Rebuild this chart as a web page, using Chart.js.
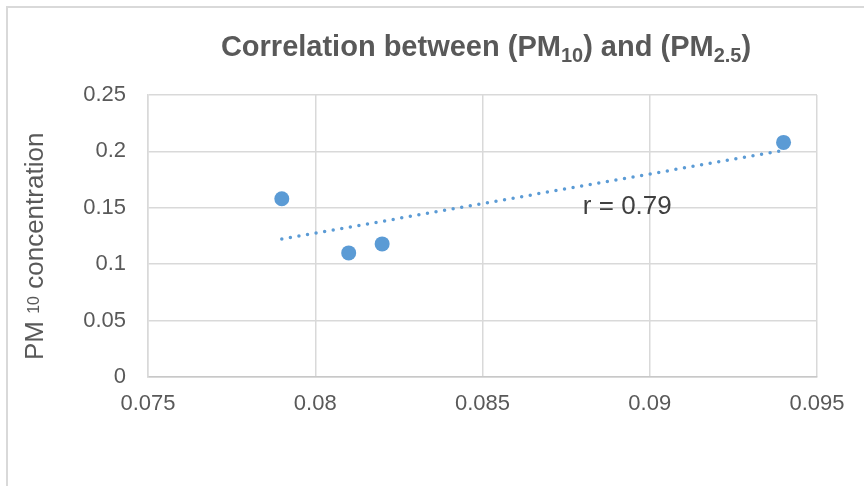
<!DOCTYPE html>
<html>
<head>
<meta charset="utf-8">
<script src="https://cdn.jsdelivr.net/npm/chart.js@4.4.1/dist/chart.umd.min.js"></script>
<style>
  body { margin: 0; background: #fff; }
  canvas { display: block; }
</style>
</head>
<body>
<canvas id="pmChart" width="864" height="486"></canvas>
<script>
// дані з графіка
const pm25 = [0.079, 0.081, 0.082, 0.094];
const pm10 = [0.158, 0.110, 0.118, 0.208];
const xTickLabels = ['0.075', '0.08', '0.085', '0.09', '0.095'];
const yTickLabels = ['0', '0.05', '0.1', '0.15', '0.2', '0.25'];
const rLabel = 'r = 0.79';

const FONT = '"Liberation Sans", Arial, sans-serif';
const GREY = '#595959';
const BLUE = '#5b9bd5';

// лінійний тренд (найменші квадрати)
const n = pm25.length;
const mx = pm25.reduce((a, b) => a + b, 0) / n;
const my = pm10.reduce((a, b) => a + b, 0) / n;
let sxy = 0, sxx = 0;
for (let i = 0; i < n; i++) {
  sxy += (pm25[i] - mx) * (pm10[i] - my);
  sxx += (pm25[i] - mx) ** 2;
}
const slope = sxy / sxx;
const icpt = my - slope * mx;
const xLo = Math.min(...pm25), xHi = Math.max(...pm25);
const trend = [
  { x: xLo, y: icpt + slope * xLo },
  { x: xHi, y: icpt + slope * xHi }
];

// малює шматки тексту з підрядковими індексами
function drawRuns(ctx, runs, x, y) {
  let cx = x;
  runs.forEach(r => {
    ctx.font = r.font;
    ctx.fillText(r.text, cx, y + (r.dy || 0));
    cx += ctx.measureText(r.text).width;
  });
}
function runsWidth(ctx, runs) {
  let w = 0;
  runs.forEach(r => { ctx.font = r.font; w += ctx.measureText(r.text).width; });
  return w;
}

const extras = {
  id: 'extras',
  beforeDraw(chart) {
    const ctx = chart.ctx;
    ctx.save();
    ctx.strokeStyle = '#d9d9d9';
    ctx.lineWidth = 2;
    ctx.strokeRect(7, 7, 900, 520);
    ctx.restore();
  },
  afterDraw(chart) {
    const ctx = chart.ctx;
    const xs = chart.scales.x, ys = chart.scales.y;
    ctx.save();
    ctx.fillStyle = GREY;
    ctx.textBaseline = 'alphabetic';
    ctx.textAlign = 'left';

    // заголовок
    const tb = 'bold 29px ' + FONT, ts = 'bold 20px ' + FONT;
    const title = [
      { text: 'Correlation between (PM', font: tb },
      { text: '10', font: ts, dy: 6 },
      { text: ') and (PM', font: tb },
      { text: '2.5', font: ts, dy: 6 },
      { text: ')', font: tb }
    ];
    drawRuns(ctx, title, 486 - runsWidth(ctx, title) / 2, 56);

    // підпис осі Y
    ctx.save();
    ctx.translate(43, 360);
    ctx.rotate(-Math.PI / 2);
    const ym = '26px ' + FONT, ysub = '16px ' + FONT;
    drawRuns(ctx, [
      { text: 'PM ', font: ym },
      { text: '10', font: ysub, dy: -4 },
      { text: ' concentration', font: ym }
    ], 0, 0);
    ctx.restore();

    // коефіцієнт кореляції
    ctx.font = '26px ' + FONT;
    ctx.textAlign = 'left';
    ctx.textBaseline = 'middle';
    ctx.fillStyle = '#404040';
    ctx.fillText(rLabel, xs.getPixelForValue(0.088), ys.getPixelForValue(0.151));
    ctx.restore();
  }
};

new Chart(document.getElementById('pmChart').getContext('2d'), {
  type: 'scatter',
  data: {
    datasets: [
      {
        label: 'PM',
        data: pm25.map((x, i) => ({ x: x, y: pm10[i] })),
        backgroundColor: BLUE,
        borderWidth: 0,
        pointRadius: 7.5,
        pointHoverRadius: 7.5
      },
      {
        label: 'trend',
        data: trend,
        showLine: true,
        borderColor: BLUE,
        borderWidth: 3.5,
        borderDash: [0, 8.7],
        borderCapStyle: 'round',
        pointRadius: 0,
        fill: false
      }
    ]
  },
  options: {
    responsive: false,
    animation: false,
    events: [],
    layout: { padding: { left: 0, top: 95, right: 47, bottom: 59 } },
    plugins: { legend: { display: false }, title: { display: false }, tooltip: { enabled: false } },
    scales: {
      x: {
        type: 'linear',
        min: 0.075,
        max: 0.095,
        ticks: {
          stepSize: 0.005,
          padding: 14,
          color: GREY,
          maxRotation: 0,
          font: { family: FONT, size: 22 },
          callback: (v, i) => xTickLabels[i]
        },
        grid: { color: '#d9d9d9', lineWidth: 1.5, drawTicks: false },
        border: { color: '#c8c8c8', width: 1.5 },
        afterFit: s => { s.height = 50; }
      },
      y: {
        min: 0,
        max: 0.25,
        ticks: {
          stepSize: 0.05,
          padding: 22,
          color: GREY,
          font: { family: FONT, size: 22 },
          callback: (v, i) => yTickLabels[i]
        },
        grid: { color: '#d9d9d9', lineWidth: 1.5, drawTicks: false },
        border: { color: '#d9d9d9', width: 1.5 },
        afterFit: s => { s.width = 148; }
      }
    }
  },
  plugins: [extras]
});
</script>
</body>
</html>
